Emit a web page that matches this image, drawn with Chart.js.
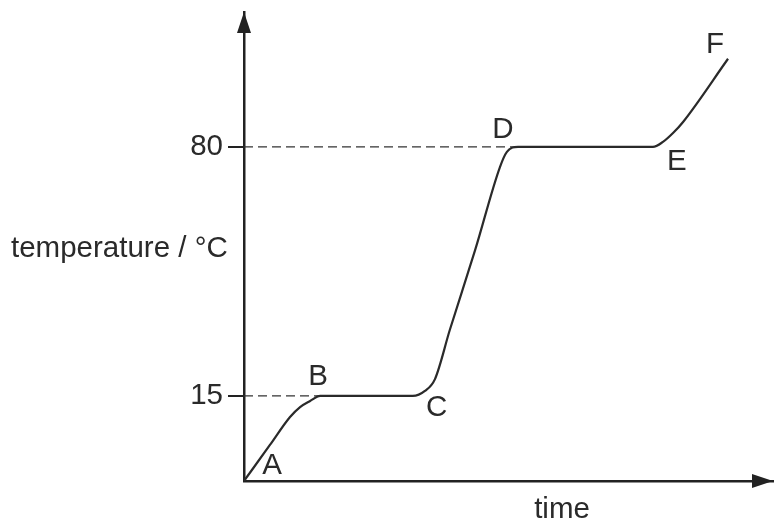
<!DOCTYPE html>
<html>
<head>
<meta charset="utf-8">
<script src="https://cdn.jsdelivr.net/npm/chart.js@4/dist/chart.umd.min.js"></script>
<style>
  body { margin: 0; background: #fff; }
  #box { width: 774px; height: 522px; }
</style>
</head>
<body>
<div id="box"><canvas id="heatCanvas"></canvas></div>
<script>
// heating curve (time in arbitrary units)
const timeValues = [0, 4.9, 8.7, 10.6, 12.5, 14.4, 31.9, 34.2, 36.1, 38.9, 43.7, 48.4, 49.7, 51.8, 77.3, 79.2, 81.1, 83.0, 91.5];
const temperatureValues = [-7.2, 2.2, 9.5, 12.1, 13.7, 15, 15, 16.3, 19.4, 32.2, 53.1, 74.8, 78.7, 80, 80, 81.3, 83.6, 86.5, 103.0];
const tickValues = [15, 80];
const pointLetters = ['A', 'B', 'C', 'D', 'E', 'F'];
const letterIndex = [0, 5, 6, 13, 14, 18];

const FONT = '"Liberation Sans", Arial, sans-serif';
const INK = '#222';

const curve = timeValues.map((t, i) => ({ x: t, y: temperatureValues[i] }));

// dashed guide from the axis to where the curve reaches each tick value
function guide(v) {
    const hit = curve.find(p => p.y >= v);
    return [{ x: 0, y: v }, { x: hit.x, y: v }];
}

// letter offsets from their curve point (px)
const letterOffset = [[28, -15], [-2, -19], [24, 12], [-15, -17], [24, 15], [-13, -14]];

const decor = {
    id: 'decor',
    afterDraw(chart) {
        const { ctx, chartArea: a, scales: { x, y } } = chart;
        ctx.save();
        ctx.fillStyle = INK;
        // arrow heads
        ctx.beginPath();
        ctx.moveTo(a.left, a.top);
        ctx.lineTo(a.left - 7, a.top + 21);
        ctx.lineTo(a.left + 7, a.top + 21);
        ctx.closePath();
        ctx.fill();
        ctx.beginPath();
        ctx.moveTo(a.right, a.bottom);
        ctx.lineTo(a.right - 21, a.bottom - 7);
        ctx.lineTo(a.right - 21, a.bottom + 7);
        ctx.closePath();
        ctx.fill();

        ctx.fillStyle = '#2a2a2a';
        ctx.font = '29.5px ' + FONT;
        ctx.textBaseline = 'alphabetic';
        ctx.textAlign = 'left';
        ctx.fillText('temperature / °C', 11, 257);
        ctx.textAlign = 'center';
        ctx.fillText('time', 562, 518);

        ctx.textBaseline = 'middle';
        pointLetters.forEach((l, i) => {
            const p = curve[letterIndex[i]];
            ctx.fillText(l, x.getPixelForValue(p.x) + letterOffset[i][0],
                y.getPixelForValue(p.y) + letterOffset[i][1]);
        });
        ctx.restore();
    }
};

new Chart(document.getElementById('heatCanvas'), {
    type: 'line',
    data: {
        datasets: [{
            data: curve,
            borderColor: '#2a2a2a',
            borderWidth: 2.2,
            pointRadius: 0,
            cubicInterpolationMode: 'monotone'
        }].concat(tickValues.map(v => ({
            data: guide(v),
            borderColor: '#333',
            borderWidth: 1.2,
            borderDash: [9, 5],
            pointRadius: 0
        })))
    },
    options: {
        responsive: true,
        maintainAspectRatio: false,
        animation: false,
        layout: { padding: { top: 12, right: 1, left: 0, bottom: 0 } },
        plugins: { legend: { display: false }, tooltip: { enabled: false } },
        scales: {
            x: {
                type: 'linear',
                min: 0,
                max: 100,
                ticks: { display: false },
                grid: { display: false },
                border: { display: true, color: INK, width: 2.5 },
                afterFit(s) { s.height = 41; s.paddingLeft = 0; s.paddingRight = 0; }
            },
            y: {
                min: -7.2,
                max: 115.2,
                afterBuildTicks(s) { s.ticks = tickValues.map(v => ({ value: v })); },
                ticks: { color: '#2a2a2a', font: { family: FONT, size: 29.5 }, padding: 5 },
                grid: { display: true, drawOnChartArea: false, drawTicks: true, tickLength: 16, color: INK, lineWidth: 2 },
                border: { display: true, color: INK, width: 2.5 },
                afterFit(s) { s.width = 244; s.paddingTop = 0; s.paddingBottom = 0; }
            }
        }
    },
    plugins: [decor]
});
</script>
</body>
</html>
